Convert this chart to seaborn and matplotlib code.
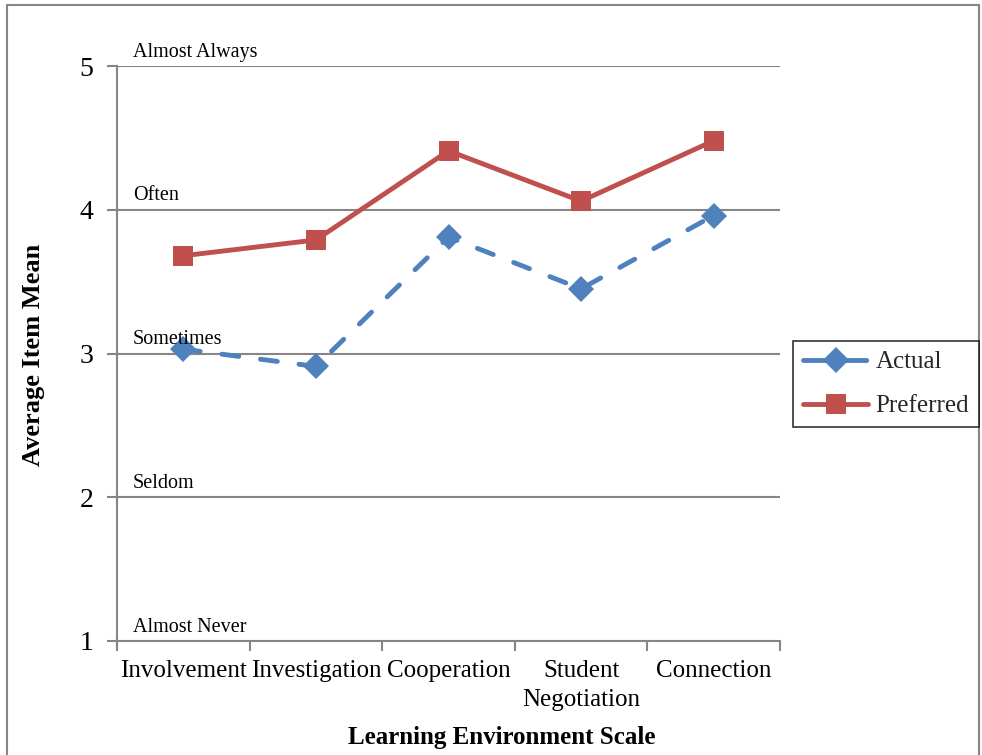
import matplotlib
matplotlib.use("Agg")
import matplotlib.pyplot as plt
from matplotlib.lines import Line2D
from matplotlib.patches import Rectangle
from matplotlib.ticker import FixedLocator
import seaborn as sns
import pandas as pd

categories = ["Involvement", "Investigation", "Cooperation", "Student\nNegotiation", "Connection"]
actual = [3.03, 2.91, 3.81, 3.45, 3.96]
preferred = [3.68, 3.79, 4.41, 4.06, 4.48]
scale_labels = ["Almost Never", "Seldom", "Sometimes", "Often", "Almost Always"]
scale_values = [1, 2, 3, 4, 5]

sns.set_theme(style="white")
plt.rcParams['font.family'] = ['Liberation Serif', 'DejaVu Serif']

df = pd.DataFrame({
    "Scale": categories * 2,
    "Mean": actual + preferred,
    "Series": ["Actual"] * len(categories) + ["Preferred"] * len(categories),
})

fig = plt.figure(figsize=(9.82, 7.55), dpi=100)
ax = fig.add_axes([117/982, 1 - 641/755, (780-117)/982, (641-66)/755])

blue = "#4F81BD"
red = "#C0504D"
LW = 3.5
sns.lineplot(data=df, x="Scale", y="Mean", hue="Series", style="Series",
             palette={"Actual": blue, "Preferred": red},
             markers={"Actual": "D", "Preferred": "s"},
             dashes={"Actual": (3.5, 4.5), "Preferred": ""},
             linewidth=LW, markersize=14, markeredgewidth=0,
             ax=ax, legend=False, sort=False, zorder=3)
for ln in ax.lines:
    ln.set_dash_capstyle("round")
    if ln.get_marker() == "D":
        ln.set_markersize(13)

ax.set_xlim(-0.5, 4.5)
ax.set_ylim(1, 5)
ax.set_yticks(scale_values)
ax.set_xticks(range(len(categories)))
ax.set_xticklabels(categories, fontsize=18, color="black", linespacing=1.4)
ax.xaxis.set_minor_locator(FixedLocator([i - 0.5 for i in range(len(categories) + 1)]))
ax.tick_params(axis="x", which="major", length=0, pad=14)
ax.tick_params(axis="x", which="minor", length=7, width=1.5, color="#868686", direction="out", bottom=True)
ax.tick_params(axis="y", length=7, width=1.5, color="#868686", direction="out", left=True, labelsize=20, labelcolor="black", pad=10)

for v in scale_values[1:]:
    ax.axhline(v, color="#868686", lw=1.5, zorder=1)
for v, lab in zip(scale_values, scale_labels):
    ax.text(0.0237, v + 0.03, lab, transform=ax.get_yaxis_transform(),
            fontsize=14.5, ha="left", va="bottom", color="black")

for side in ["top", "right"]:
    ax.spines[side].set_visible(False)
for side in ["left", "bottom"]:
    ax.spines[side].set_color("#868686")
    ax.spines[side].set_linewidth(1.5)

ax.set_xlabel("Learning Environment Scale", fontsize=18, fontweight="bold", color="black")
ax.set_ylabel("Average Item Mean", fontsize=19, fontweight="bold", color="black")
ax.xaxis.set_label_coords(0.58, -0.148)
ax.yaxis.set_label_coords(-0.108, 0.497)

handles = [
    Line2D([], [], color=blue, lw=LW, ls=(0, (5.0, 3.0)), marker="D", markersize=13, markeredgewidth=0, dash_capstyle="round"),
    Line2D([], [], color=red, lw=LW, marker="s", markersize=14, markeredgewidth=0, solid_capstyle="round"),
]
leg = fig.legend(handles, ["Actual", "Preferred"], loc="upper left",
                 bbox_to_anchor=(793/982, 1 - 341/755), fontsize=18,
                 frameon=True, fancybox=False, handlelength=2.6, borderpad=0.4,
                 labelspacing=0.85, handletextpad=0.3, borderaxespad=0)
leg.get_frame().set_edgecolor("black")
leg.get_frame().set_linewidth(1.2)

fig.patches.append(Rectangle((7/982, -0.05), (979-7)/982, 1.05 - 5/755,
                             transform=fig.transFigure, fill=False,
                             edgecolor="#868686", lw=1.5))

fig.savefig("out.png", dpi=100)
